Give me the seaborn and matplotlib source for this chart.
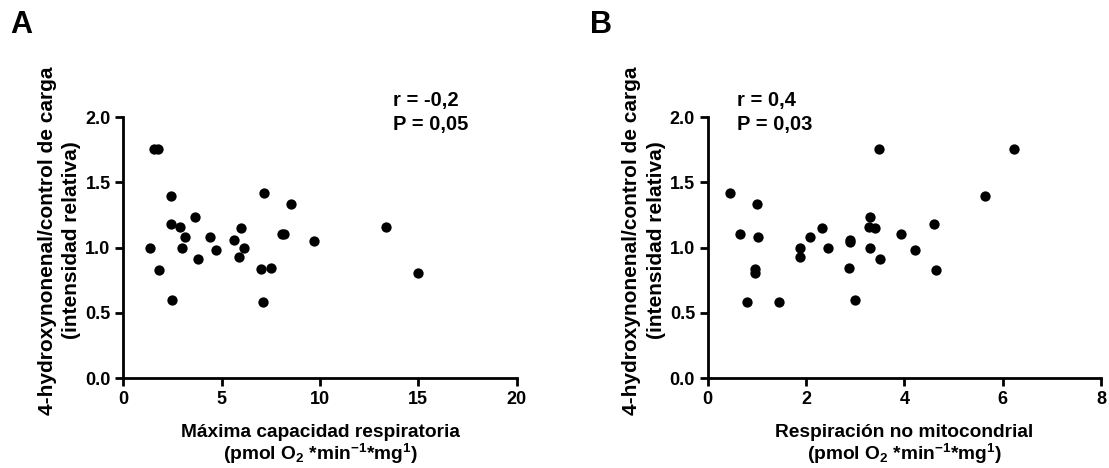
import matplotlib
matplotlib.use("Agg")
import matplotlib.pyplot as plt
import seaborn as sns
import pandas as pd

# Panel A data: Máxima capacidad respiratoria vs 4-HNE
a_x = [1.39, 1.58, 1.75, 1.80, 2.41, 2.44, 2.50, 2.90, 2.99, 3.17, 3.63, 3.82, 4.43, 4.70,
       5.62, 5.91, 5.99, 6.15, 6.99, 7.16, 7.11, 7.50, 8.05, 8.18, 8.51, 9.71, 13.36, 14.99]
a_y = [1.00, 1.755, 1.755, 0.83, 1.396, 1.177, 0.599, 1.159, 1.00, 1.083, 1.236, 0.912, 1.080, 0.978,
       1.057, 0.925, 1.149, 1.00, 0.833, 1.419, 0.586, 0.841, 1.103, 1.103, 1.335, 1.047, 1.154, 0.805]

# Panel B data: Respiración no mitocondrial vs 4-HNE
b_x = [0.45, 0.65, 0.80, 0.97, 0.97, 1.00, 1.02, 1.46, 1.88, 1.88, 2.09, 2.32, 2.44, 2.88, 2.90,
       2.90, 3.00, 3.28, 3.30, 3.30, 3.41, 3.49, 3.51, 3.94, 4.21, 4.60, 4.64, 5.64, 6.23]
b_y = [1.419, 1.103, 0.581, 0.833, 0.805, 1.335, 1.080, 0.586, 1.00, 0.925, 1.080, 1.152, 1.00, 0.841, 1.057,
       1.042, 0.599, 1.159, 1.236, 1.00, 1.149, 1.755, 0.912, 1.103, 0.978, 1.177, 0.83, 1.396, 1.755]

a_xticks = [0, 5, 10, 15, 20]
b_xticks = [0, 2, 4, 6, 8]
yticks = [0.0, 0.5, 1.0, 1.5, 2.0]
ytick_labels = ["0.0", "0.5", "1.0", "1.5", "2.0"]

a_stats = ["r = -0,2", "P = 0,05"]
b_stats = ["r = 0,4", "P = 0,03"]

ylabel = "4-hydroxynonenal/control de carga\n(intensidad relativa)"
a_xlabel = "Máxima capacidad respiratoria\n(pmol O$_2$ *min$^{-1}$*mg$^{1}$)"
b_xlabel = "Respiración no mitocondrial\n(pmol O$_2$ *min$^{-1}$*mg$^{1}$)"

sns.set_style("ticks")
plt.rcParams['font.family'] = ['Liberation Sans', 'DejaVu Sans']
plt.rcParams['mathtext.fontset'] = 'custom'
plt.rcParams['mathtext.rm'] = 'Liberation Sans:bold'
plt.rcParams['mathtext.it'] = 'Liberation Sans:bold'
plt.rcParams['mathtext.bf'] = 'Liberation Sans:bold'
for key in ['text.color', 'axes.labelcolor', 'xtick.color', 'ytick.color', 'axes.edgecolor']:
    plt.rcParams[key] = 'black'

fig = plt.figure(figsize=(11.09, 4.68), dpi=100)
axA = fig.add_axes([0.111, 0.192, 0.355, 0.558])
axB = fig.add_axes([0.638, 0.192, 0.355, 0.558])

dfA = pd.DataFrame({"x": a_x, "y": a_y})
dfB = pd.DataFrame({"x": b_x, "y": b_y})

for ax, df, xt, xlab, stats, stx in [
    (axA, dfA, a_xticks, a_xlabel, a_stats, 0.685),
    (axB, dfB, b_xticks, b_xlabel, b_stats, 0.074),
]:
    sns.scatterplot(data=df, x="x", y="y", ax=ax, color="black", s=55,
                    edgecolor="black", linewidth=0, clip_on=False)
    ax.set_xlim(xt[0], xt[-1])
    ax.set_ylim(0, 2.0)
    ax.set_xticks(xt)
    ax.set_xticklabels([str(v) for v in xt], fontsize=13, fontweight="bold")
    ax.set_yticks(yticks)
    ax.set_yticklabels(ytick_labels, fontsize=13, fontweight="bold")
    ax.tick_params(axis="both", direction="out", length=6, width=2, color="black",
                   labelcolor="black", pad=3)
    for side in ["left", "bottom"]:
        ax.spines[side].set_linewidth(2)
        ax.spines[side].set_color("black")
    sns.despine(ax=ax)
    ax.set_xlabel(xlab, fontsize=13.8, fontweight="bold", labelpad=12, linespacing=1.05)
    ax.set_ylabel(ylabel, fontsize=15, fontweight="bold", labelpad=3, linespacing=1.35)
    ax.yaxis.label.set_y(0.527)
    ax.text(stx, 0.933, stats[0] + "\n" + stats[1], transform=ax.transAxes,
            fontsize=14.5, fontweight="bold", va="bottom", ha="left", linespacing=1.36)

fig.text(0.009, 0.915, "A", fontsize=22, fontweight="bold", ha="left", va="bottom")
fig.text(0.532, 0.915, "B", fontsize=22, fontweight="bold", ha="left", va="bottom")

fig.savefig("out.png", dpi=100)
